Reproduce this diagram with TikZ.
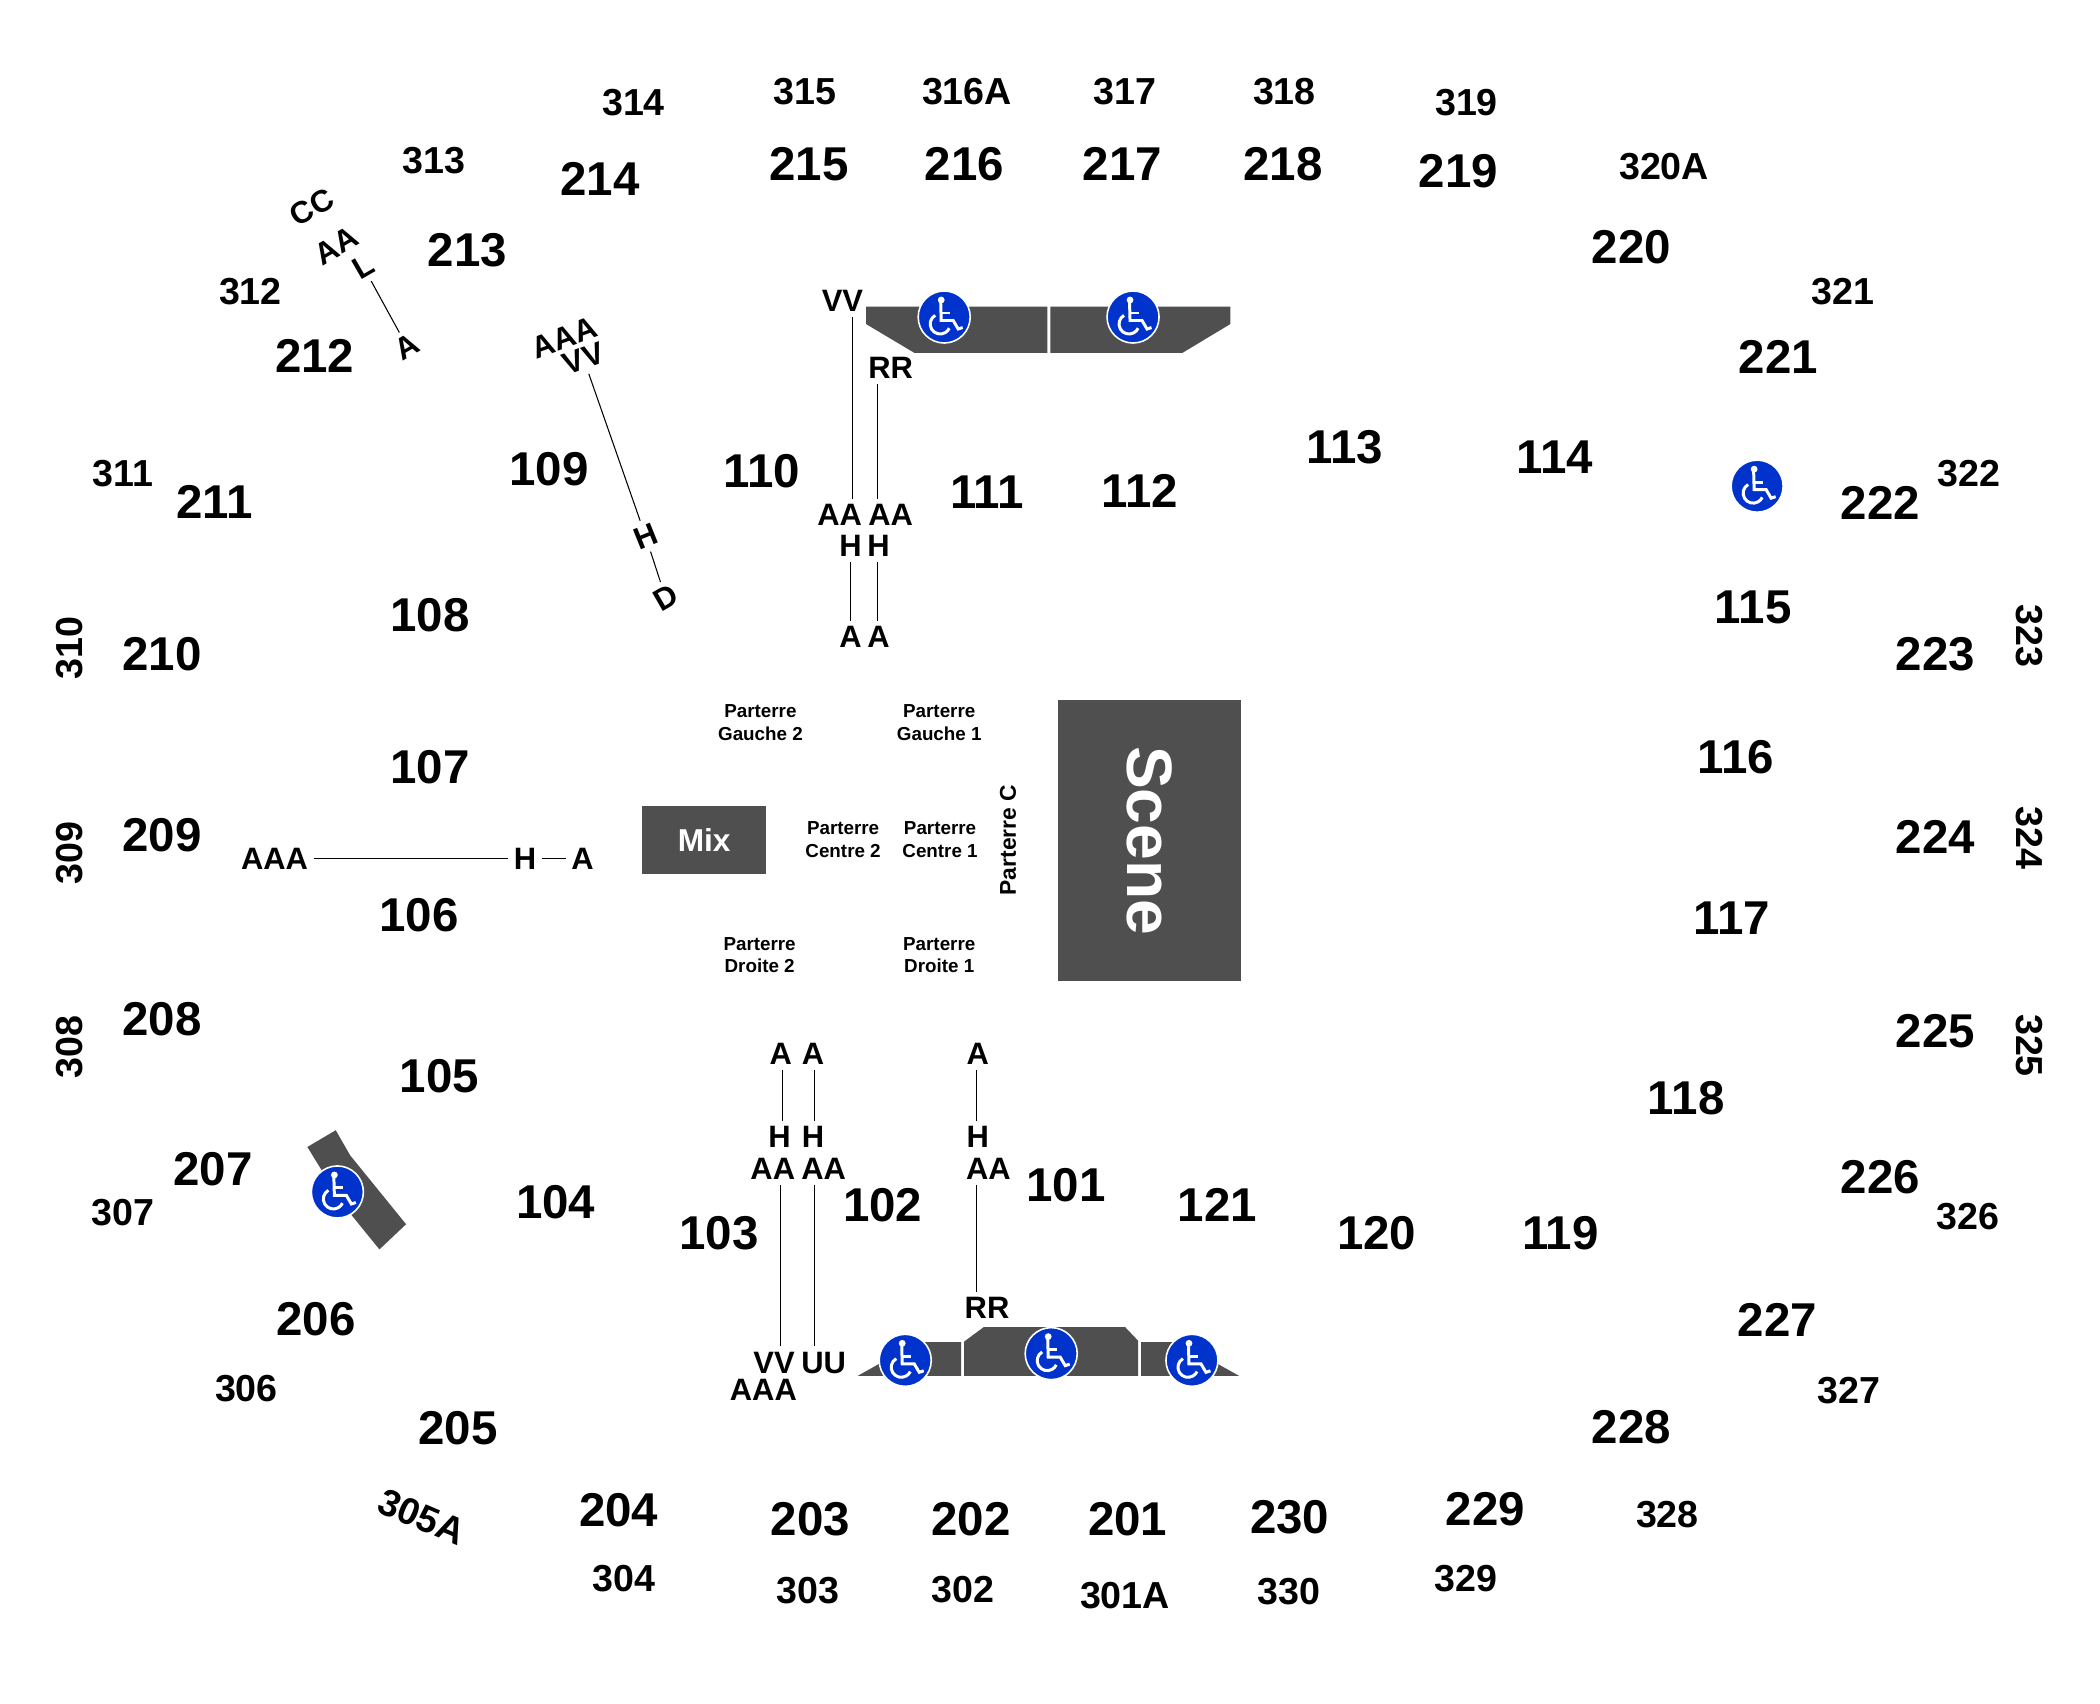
\documentclass[tikz,border=0pt]{standalone}
\usepackage{fontspec}
\setmainfont{Liberation Sans}
\definecolor{blockgray}{HTML}{4F4F4F}
\definecolor{wheelblue}{HTML}{0033CC}
\tikzset{
  secbig/.style={font=\bfseries\fontsize{27}{27}\selectfont, inner sep=0pt, yshift=-.5pt},
  secsmall/.style={font=\bfseries\fontsize{21.4}{21.4}\selectfont, inner sep=0pt, yshift=-.5pt},
  rowlab/.style={font=\bfseries\fontsize{17.6}{17.6}\selectfont, inner sep=3pt},
  floorlab/.style={font=\bfseries\fontsize{10.7}{12.8}\selectfont, align=center, inner sep=0pt},
  rowline/.style={draw, black, line width=.6pt},
  block/.style={fill=blockgray},
  wheelchair/.pic={
    \begin{scope}[scale=.747]
      \filldraw[draw=white, line width=.9pt, fill=wheelblue] (0,0) circle (26);
      \fill[white] (-3,-17) circle (3.4);
      \draw[white, line width=1.7pt] (-3.5,-15) -- (-3,3.5) -- (9,3.5) -- (14,12) -- (18.5,10.5);
      \draw[white, line width=1.7pt] (-3,-4) -- (6,-4);
      \draw[white, line width=1.7pt] (-4,7) ++(-120:10) arc[start angle=-120, end angle=-335, radius=10];
    \end{scope}
  }
}
\begin{document}
\begin{tikzpicture}[x=.026786cm,y=-.026786cm]
  \useasboundingbox (0,0) rectangle (1568,1272.3);
  % seating blocks
  \fill[block] (646.7,229) -- (782,229) -- (782,263.4) -- (682.6,263.4) -- (646.7,242) -- cycle;
  \fill[block] (784.2,229) -- (918.6,229) -- (918.6,242) -- (883,263.4) -- (784.2,263.4) -- cycle;
  \fill[block] (640.3,1027.4) -- (685,1002.2) -- (717.7,1002.2) -- (717.7,1027.4) -- cycle;
  \fill[block] (719.9,1027.4) -- (719.9,1001.7) -- (734.4,991) -- (840.2,991) -- (849.7,1001) -- (849.7,1027.4) -- cycle;
  \fill[block] (852.1,1002.2) -- (880.5,1002.2) -- (925.3,1027.4) -- (852.1,1027.4) -- cycle;
  \fill[block] (229.5,856.4) -- (250.7,843.9) -- (261.4,862.6) -- (303.2,914.1) -- (283.3,932.9) -- (262.6,907.4) -- (240.2,873.8) -- cycle;
  \node[block, text=white, floorlab, font=\bfseries\fontsize{18}{18}\selectfont, minimum width=2.48cm, minimum height=1.354cm] (mix) at (525.8,627.3) {Mix};
  \node[block, text=white, floorlab, font=\bfseries\fontsize{36.5}{36.5}\selectfont, rotate=-90, minimum width=5.62cm, minimum height=3.66cm] (scene) at (858.5,627.7) {Scene};
  \foreach \nm/\x/\y in {
    wa/705/236.7,
    wb/846/236.7,
    wc/1312/363,
    wd/251.9/890,
    we/675.9/1015.7,
    wf/784.9/1010.7,
    wg/890/1015.7%
  } {
    \pic (\nm) at (\x,\y) {wheelchair};
  }
  % upper level sections
  \foreach \x/\y/\lab in {
    473/76/314, 601/68/315, 722/68/316A, 840/68/317, 959/68/318, 1095/76/319,
    1242.5/124/320A, 1376/217/321, 1470/353/322, 1469.5/908/326, 1380.5/1038/327,
    1245/1130/328, 1094.5/1178/329, 962.5/1188/330, 840/1191/301A, 719/1186/302,
    603/1187/303, 466/1178/304, 184/1036/306, 92/905/307, 92/353/311,
    187/217/312, 324/119/313%
  } {
    \node[secsmall] (s\lab) at (\x,\y) {\lab};
  }
  \foreach \x/\y/\lab in {1515/474/323, 1515/625/324, 1515/780/325} {
    \node[secsmall, rotate=-90] (s\lab) at (\x,\y) {\lab};
  }
  \foreach \x/\y/\lab in {52/781/308, 52/636/309, 52/483/310} {
    \node[secsmall, rotate=90] (s\lab) at (\x,\y) {\lab};
  }
  \node[secsmall, rotate=-23] (s305A) at (315,1132) {305A};
  % middle and lower sections
  \foreach \x/\y/\lab in {
    448/133/214, 604/122/215, 720/122/216, 838/122/217, 958/122/218, 1089/127/219,
    1218/184/220, 1328/266/221, 1404/375/222, 1445/488/223, 1445/624/224,
    1445/769/225, 1404/878/226, 1327/985/227, 1218/1065/228, 1109/1126/229,
    963/1132/230, 842/1134/201, 725/1134/202, 605/1134/203, 462/1127/204,
    342/1066/205, 236/984/206, 159/872/207, 121/760/208, 121/623/209,
    121/488/210, 160/374/211, 235/265/212, 349/186/213,
    796/884/101, 659/899/102, 537/920/103, 415/897/104, 328/803/105,
    313/683/106, 321/572/107, 321/459/108, 410/350/109, 569/351/110,
    737/367/111, 851/366/112, 1004/333/113, 1161/341/114, 1309/453/115,
    1296/565/116, 1293/685/117, 1259/819/118, 1165/920/119, 1028/920/120,
    909/899/121%
  } {
    \node[secbig] (s\lab) at (\x,\y) {\lab};
  }
  % floor labels
  \foreach \nm/\x/\y/\lab in {
    gb/567.8/539.7/Gauche 2,
    ga/701.3/539.7/Gauche 1,
    cb/629.5/626.8/Centre 2,
    ca/701.9/626.8/Centre 1,
    db/567.2/713.2/Droite 2,
    da/701.3/713.2/Droite 1%
  } {
    \node[floorlab] (\nm) at (\x,\y) {Parterre\\\lab};
  }
  \node[floorlab, font=\bfseries\fontsize{13}{13}\selectfont, rotate=90] (pc) at (752.6,627.3) {Parterre C};
  % row letters
  \foreach \nm/\x/\y/\lab in {
    vvt/629/224.5/VV,
    rrt/665/274.5/RR,
    aatl/627/384.5/AA,
    aatr/665/384.5/AA,
    htl/635/407.5/H,
    htr/656/407.5/H,
    atl/635/475.5/A,
    atr/656/475.5/A,
    abl/583/787/A,
    abm/607/787/A,
    abr/730/787/A,
    hbl/582/849/H,
    hbm/607/849/H,
    hbr/730/849/H,
    aabl/577/872.5/AA,
    aabm/615/872.5/AA,
    aabr/738/872.5/AA,
    vvb/578/1017.5/VV,
    uub/615/1017.5/UU,
    aaab/570/1037.5/AAA,
    rrb/737/976.5/RR,
    aaas/205/641/AAA,
    hs/392/641/H,
    as/435/641/A%
  } {
    \node[rowlab] (\nm) at (\x,\y) {\lab};
  }
  \foreach \nm/\x/\y/\rot/\lab in {
    cc/232.8/154.8/30/CC,
    aan/250.9/183.5/30/AA,
    ln/271.3/199.2/30/L,
    an/304/258.9/30/A,
    aaam/421.5/252.2/20/AAA,
    vvm/435.6/267.6/20/VV,
    hm/482/400.3/22/H,
    dm/497/446.4/30/D%
  } {
    \node[rowlab, rotate=\rot] (\nm) at (\x,\y) {\lab};
  }
  % row lines
  \foreach \u/\v/\xx in {
    vvt/aatl/636.5,
    rrt/aatr/655.4,
    htl/atl/635.3,
    htr/atr/655.4,
    abl/hbl/584.5,
    abm/hbm/608.5,
    abr/hbr/729,
    aabl/vvb/583,
    aabm/uub/608.5,
    aabr/rrb/729%
  } {
    \draw[rowline] (\u.south -| \xx,0) -- (\v.north -| \xx,0);
  }
  \foreach \u/\v in {
    ln/an,
    vvm/hm,
    hm/dm,
    aaas/hs,
    hs/as%
  } {
    \draw[rowline] (\u) -- (\v);
  }
\end{tikzpicture}
\end{document}
